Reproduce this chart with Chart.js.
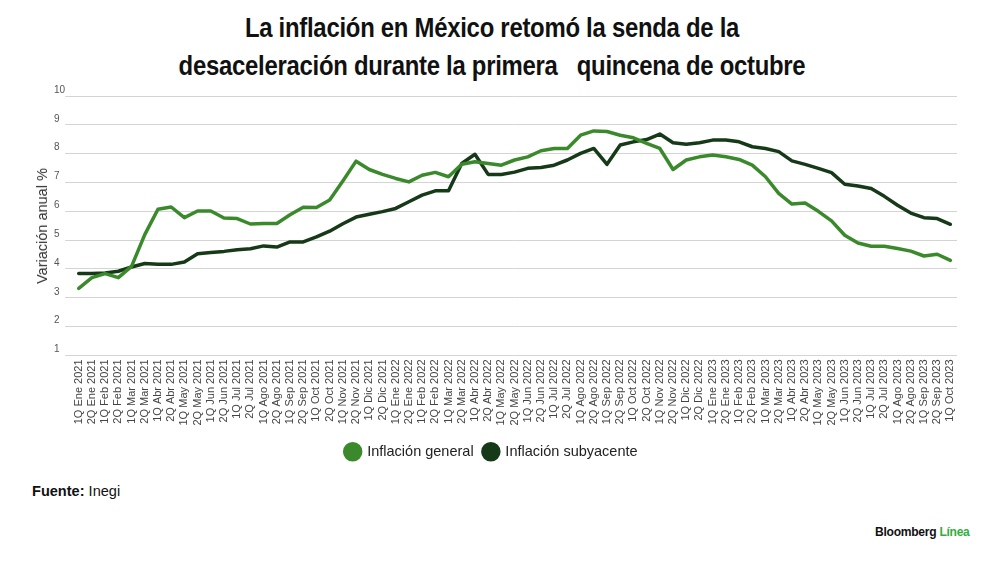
<!DOCTYPE html>
<html>
<head>
<meta charset="utf-8">
<script src="https://cdn.jsdelivr.net/npm/chart.js@4.4.0/dist/chart.umd.min.js"></script>
<style>
  html, body { margin: 0; padding: 0; background: #fff; }
  body { width: 1000px; height: 561px; position: relative; overflow: hidden; font-family: 'Liberation Sans', Arial, sans-serif; }
  #title { position: absolute; left: 0; top: 9px; width: 984px; text-align: center; font-family: 'Liberation Sans', Arial, sans-serif; font-weight: bold; font-size: 27px; line-height: 38px; color: #111; transform: scaleX(0.885); transform-origin: 492px 0; letter-spacing: -0.3px; }
  #wrap { position: absolute; left: 0; top: 0; width: 1000px; height: 477px; }
  #ytitle { position: absolute; left: 42px; top: 226px; transform: translate(-50%, -50%) rotate(-90deg); white-space: nowrap; font-size: 14.5px; color: #333; }
  #source { position: absolute; left: 32px; top: 482px; font-size: 15px; color: #111; transform: scaleX(0.97); transform-origin: 0 0; white-space: nowrap; }
  #source b { font-weight: bold; }
  #brand { position: absolute; left: 875px; top: 524px; font-weight: bold; font-size: 13px; color: #111; letter-spacing: -0.3px; transform: scaleX(0.93); transform-origin: 0 0; white-space: nowrap; }
  #brand span { color: #2fae3c; }
</style>
</head>
<body>
<div id="title">La inflación en México retomó la senda de la<br>desaceleración durante la primera&nbsp;&nbsp; quincena de octubre</div>
<div id="wrap"><canvas id="c"></canvas></div>
<div id="ytitle">Variación anual %</div>
<div id="source"><b>Fuente:</b> Inegi</div>
<div id="brand">Bloomberg <span>Línea</span></div>
<script>
const labels = [
  '1Q Ene 2021','2Q Ene 2021','1Q Feb 2021','2Q Feb 2021','1Q Mar 2021','2Q Mar 2021','1Q Abr 2021','2Q Abr 2021',
  '1Q May 2021','2Q May 2021','1Q Jun 2021','2Q Jun 2021','1Q Jul 2021','2Q Jul 2021','1Q Ago 2021','2Q Ago 2021',
  '1Q Sep 2021','2Q Sep 2021','1Q Oct 2021','2Q Oct 2021','1Q Nov 2021','2Q Nov 2021','1Q Dic 2021','2Q Dic 2021',
  '1Q Ene 2022','2Q Ene 2022','1Q Feb 2022','2Q Feb 2022','1Q Mar 2022','2Q Mar 2022','1Q Abr 2022','2Q Abr 2022',
  '1Q May 2022','2Q May 2022','1Q Jun 2022','2Q Jun 2022','1Q Jul 2022','2Q Jul 2022','1Q Ago 2022','2Q Ago 2022',
  '1Q Sep 2022','2Q Sep 2022','1Q Oct 2022','2Q Oct 2022','1Q Nov 2022','2Q Nov 2022','1Q Dic 2022','2Q Dic 2022',
  '1Q Ene 2023','2Q Ene 2023','1Q Feb 2023','2Q Feb 2023','1Q Mar 2023','2Q Mar 2023','1Q Abr 2023','2Q Abr 2023',
  '1Q May 2023','2Q May 2023','1Q Jun 2023','2Q Jun 2023','1Q Jul 2023','2Q Jul 2023','1Q Ago 2023','2Q Ago 2023',
  '1Q Sep 2023','2Q Sep 2023','1Q Oct 2023'
];
const inflacionGeneral = [
  3.33, 3.70, 3.84, 3.70, 4.09, 5.19, 6.07, 6.15,
  5.78, 6.01, 6.01, 5.77, 5.75, 5.56, 5.58, 5.58,
  5.88, 6.14, 6.13, 6.39, 7.05, 7.74, 7.45, 7.28,
  7.14, 7.02, 7.25, 7.35, 7.20, 7.63, 7.72, 7.66,
  7.60, 7.78, 7.89, 8.10, 8.18, 8.18, 8.64, 8.79,
  8.77, 8.64, 8.55, 8.36, 8.18, 7.45, 7.78, 7.89,
  7.95, 7.89, 7.80, 7.60, 7.20, 6.62, 6.25, 6.29,
  6.00, 5.67, 5.17, 4.90, 4.79, 4.79, 4.71, 4.62,
  4.45, 4.51, 4.30
];
const inflacionSubyacente = [
  3.84, 3.84, 3.86, 3.92, 4.07, 4.19, 4.16, 4.16,
  4.24, 4.53, 4.57, 4.61, 4.67, 4.70, 4.80, 4.76,
  4.94, 4.94, 5.11, 5.31, 5.57, 5.80, 5.90, 5.99,
  6.10, 6.33, 6.56, 6.71, 6.71, 7.66, 7.98, 7.28,
  7.28, 7.36, 7.49, 7.52, 7.60, 7.78, 8.01, 8.18,
  7.63, 8.30, 8.41, 8.49, 8.68, 8.38, 8.33, 8.38,
  8.47, 8.47, 8.41, 8.24, 8.18, 8.07, 7.75, 7.63,
  7.49, 7.34, 6.94, 6.88, 6.79, 6.52, 6.21, 5.94,
  5.78, 5.75, 5.55
];
const yTicks = [1, 2, 3, 4, 5, 6, 7, 8, 9, 10];

const GREEN = '#3a8a2c';
const DARK = '#163a18';

const legendShift = {
  id: 'legendShift',
  afterLayout(chart) {
    if (chart.legend) { chart.legend.left -= 14; chart.legend.right -= 14; }
  }
};

new Chart(document.getElementById('c'), {
  type: 'line',
  data: {
    labels: labels,
    datasets: [
      { label: 'Inflación general', data: inflacionGeneral, borderColor: GREEN, backgroundColor: GREEN,
        borderWidth: 3.5, pointRadius: 0, pointHoverRadius: 0, tension: 0, borderJoinStyle: 'round', borderCapStyle: 'round' },
      { label: 'Inflación subyacente', data: inflacionSubyacente, borderColor: DARK, backgroundColor: DARK,
        borderWidth: 3.5, pointRadius: 0, pointHoverRadius: 0, tension: 0, borderJoinStyle: 'round', borderCapStyle: 'round' }
    ]
  },
  plugins: [legendShift],
  options: {
    responsive: true,
    maintainAspectRatio: false,
    animation: false,
    layout: { padding: { top: 96, left: 54, right: 43, bottom: 8 } },
    plugins: {
      title: { display: false },
      tooltip: { enabled: false },
      legend: {
        position: 'bottom',
        labels: {
          usePointStyle: true, pointStyle: 'circle', boxWidth: 14.5, boxHeight: 11.3,
          padding: 10, color: '#222',
          font: { family: "'Liberation Sans', sans-serif", size: 14.5 }
        }
      }
    },
    scales: {
      x: {
        offset: true,
        grid: { display: false, drawTicks: false },
        border: { display: false },
        afterFit: (axis) => { axis.height += 5; },
        ticks: {
          autoSkip: false, minRotation: 90, maxRotation: 90, padding: 4,
          color: '#444', font: { family: "'Liberation Sans', sans-serif", size: 11 }
        }
      },
      y: {
        min: 1, max: 10,
        afterBuildTicks: (axis) => { axis.ticks = yTicks.map(v => ({ value: v })); },
        grid: { color: '#d4d4d4', lineWidth: 1, tickLength: 7, drawTicks: true },
        border: { display: false },
        ticks: {
          crossAlign: 'far', padding: 0, labelOffset: -6,
          color: '#555', font: { family: "'Liberation Sans', sans-serif", size: 10 }
        },
        title: { display: false }
      }
    }
  }
});
</script>
</body>
</html>
